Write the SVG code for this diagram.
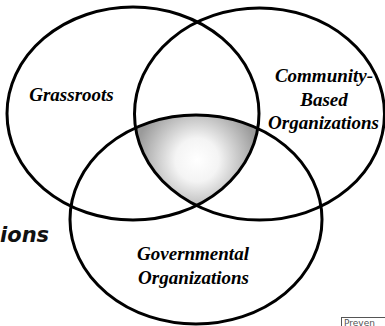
<svg xmlns="http://www.w3.org/2000/svg" width="385" height="326" viewBox="0 0 385 326">
<defs>
<style>
.ring{fill:none;stroke:#000;stroke-width:3}
.lbl{font-family:"Liberation Serif","Times New Roman",serif;font-weight:bold;font-style:italic;font-size:19px;fill:#000;text-anchor:middle}
.side{font-family:"DejaVu Sans",sans-serif;font-weight:bold;font-style:italic;font-size:21px;fill:#111}
.tag{font-family:"DejaVu Sans",sans-serif;font-size:9px;fill:#555}
</style>
<radialGradient id="shade" gradientUnits="userSpaceOnUse" cx="197" cy="160" r="62">
<stop offset="0" stop-color="#ffffff"/>
<stop offset="0.35" stop-color="#f4f4f4"/>
<stop offset="1" stop-color="#9a9a9a"/>
</radialGradient>
<clipPath id="c2"><ellipse cx="259.5" cy="114" rx="125" ry="106"/></clipPath>
<clipPath id="c3"><ellipse cx="196" cy="219.5" rx="126" ry="104.5"/></clipPath>
</defs>
<rect width="385" height="326" fill="#fff"/>
<g id="overlap" clip-path="url(#c2)">
<ellipse cx="133" cy="113.5" rx="126" ry="106.5" fill="url(#shade)" clip-path="url(#c3)"/>
</g>
<g id="connectors"></g>
<g id="grassroots">
<ellipse class="ring" cx="133" cy="113.5" rx="126" ry="106.5"/>
<text class="lbl" x="71.5" y="101">Grassroots</text>
</g>
<g id="community">
<ellipse class="ring" cx="259.5" cy="114" rx="125" ry="106"/>
<text class="lbl" x="324" y="82">Community-</text>
<text class="lbl" x="324" y="106">Based</text>
<text class="lbl" x="323.5" y="129">Organizations</text>
</g>
<g id="governmental">
<ellipse class="ring" cx="196" cy="219.5" rx="126" ry="104.5"/>
<text class="lbl" x="193" y="260">Governmental</text>
<text class="lbl" x="193.5" y="284">Organizations</text>
</g>
<g id="side-label">
<text class="side" x="0" y="242">ions</text>
</g>
<g id="tag">
<rect x="341.5" y="317.5" width="50" height="14" fill="#fff" stroke="#555" stroke-width="1"/>
<text class="tag" x="344" y="325.5">Preven</text>
</g>
</svg>
